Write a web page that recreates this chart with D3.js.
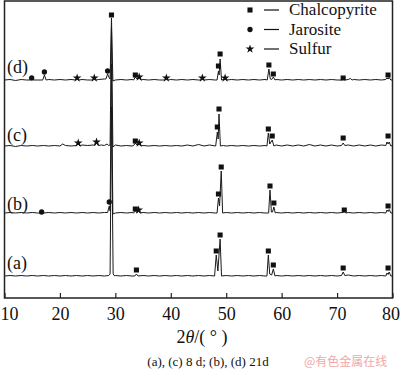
<!DOCTYPE html>
<html>
<head>
<meta charset="utf-8">
<script src="https://cdn.jsdelivr.net/npm/d3@7"></script>
<style>
  body { margin: 0; background: #fff; }
  svg text { font-family: "Liberation Serif", "Times New Roman", Times, serif !important; fill: #111; }
  svg text.cjk { font-family: "Noto Sans CJK SC", sans-serif !important; fill: #f0a8a8; }
</style>
</head>
<body>
<svg id="xrd" width="400" height="376"></svg>
<script>
// 2theta ticks
const xTicks = [10, 20, 30, 40, 50, 60, 70, 80];

const sampleLabels = ["(a)", "(b)", "(c)", "(d)"];
// vertical offset of each pattern (intensity units)
const offsets = [21, 84, 151, 217];

const phases = ["C", "J", "S"];
const phaseNames = ["Chalcopyrite", "Jarosite", "Sulfur"];

// patterns: [2theta, intensity]
const traceA = [[10,1],[11,1.5],[12,1],[13,1.5],[14,1],[15,1.5],[16,1],[17,1.5],[18,1],[19,1.5],[20,1],[21,1.5],[22,1],[23,1.5],[24,1],[25,1.5],[26,1],[27,1.5],[28,1],[28.8,1.5],[29.05,3],[29.3,170],[29.6,3],[29.9,1],[30,1.5],[31,1],[32,1.5],[33,1],[33.5,1],[33.8,3],[34.1,1],[35,1.5],[36,1],[37,1.5],[38,1],[39,1.5],[40,1],[41,1.5],[42,1],[43,1.5],[44,1],[45,1.5],[46,1],[47,1.5],[47.9,1],[48.2,22],[48.5,6],[48.9,38],[49.15,1],[50,1.5],[51,1],[52,1.5],[53,1],[54,1.5],[55,1],[56,1.5],[57,1],[57.35,1],[57.6,22],[57.85,3],[58.2,2],[58.5,8],[58.8,1],[59,1.5],[60,1],[61,1.5],[62,1],[63,1.5],[64,1],[65,1.5],[66,1],[67,1.5],[68,1],[69,1.5],[70,1],[70.8,1.5],[71.1,5],[71.4,1.5],[72,2],[73,1],[74,1.5],[75,1],[76,1.5],[77,1],[78,1.5],[78.8,1],[79.0,4],[79.2,2.5],[79.4,5],[79.7,1],[80,1]];
const traceB = [[10,1],[11,1.5],[12,1],[13,1.5],[14,1],[15,1.5],[16,1],[16.4,1],[16.7,2],[17,1],[18,1.5],[19,1],[20,1.5],[21,1],[22,1.5],[23,1],[24,1.5],[25,1],[26,1.5],[27,1],[28,1.5],[28.6,1.5],[28.9,8],[29.05,3],[29.3,150],[29.55,0],[30,1],[31,1.5],[32,1],[33,1.5],[33.3,1],[33.6,3],[33.9,1.5],[34.2,2.5],[34.5,1],[35,1.5],[36,1],[37,1.5],[38,1],[39,1.5],[40,1],[41,1.5],[42,1],[43,1.5],[44,1],[45,1.5],[46,1],[47,1.5],[48,1],[48.35,1],[48.6,16],[48.8,8],[49.1,43],[49.35,1],[50,1.5],[51,1],[52,1.5],[53,1],[54,1.5],[55,1],[56,1.5],[57,1],[57.65,1],[57.9,24],[58.15,2],[58.35,2],[58.6,7],[58.85,1],[59,1.5],[60,1],[61,1.5],[62,1],[63,1.5],[64,1],[65,1.5],[66,1],[67,1.5],[68,1],[69,1.5],[70,1],[71,1.5],[71.3,2.5],[71.6,1],[72,1.5],[73,1],[74,1.5],[75,1],[76,1.5],[77,1],[78,1.5],[78.8,1],[79.0,4],[79.2,2.5],[79.4,4.5],[79.7,1],[80,1]];
const traceC = [[10,1],[11,1.5],[12,0.5],[13,1.5],[14,1],[15,1.5],[16,1],[17,1.5],[18,1],[19,1.5],[20,1],[20.5,3],[21,1.5],[22,1],[23,1.5],[23.3,3.5],[23.6,1],[24,2],[25,1.5],[26,2],[26.3,1.5],[26.6,4],[26.9,1.5],[27.5,2],[28,1.5],[28.5,3],[28.8,1.5],[29.05,2],[29.3,120],[29.55,0],[30,2],[31,1],[32,1.5],[33,1],[33.3,1.5],[33.6,4],[33.9,2],[34.3,3],[34.6,1],[35,1.5],[36,1],[37,1.5],[38,1],[39,1.5],[40,1],[41,1.5],[42,1],[43,2],[44,1],[45,2.5],[46,1],[47,2],[48.1,1],[48.4,15],[48.55,8],[48.7,33],[48.95,1],[49.5,1.5],[50,1],[51,1.5],[52,1],[53,1.5],[54,1],[55,1.5],[56,1],[57,1.5],[57.35,1],[57.6,14],[57.85,3],[58.3,7],[58.6,1],[59,2],[60,1],[61,2],[62,1],[63,2],[64,1],[65,2.5],[66,1],[67,2],[68,1],[69,2],[70,1],[70.8,1.5],[71.1,4],[71.4,1.5],[72,2],[73,1],[74,2],[75,1],[76,2],[77,1],[78,2],[78.8,1.5],[79.0,5],[79.2,3],[79.4,5],[79.7,1],[80,1.5]];
const traceD = [[10,1],[11,1.5],[12,0.5],[13,1.5],[14,1],[14.6,1],[14.9,3],[15.2,1],[16,1],[16.9,1],[17.2,6],[17.5,1],[18,1.5],[19,1],[20,1.5],[21,1],[22,1.5],[22.8,1],[23.1,3],[23.4,1],[24,1.5],[25,1],[25.9,1],[26.2,3],[26.5,1],[27,1.5],[28,2],[28.3,2],[28.6,7],[28.9,3],[29.05,2],[29.3,63],[29.55,0],[30,1],[31,1.5],[32,1],[33,1.5],[33.3,1],[33.6,4],[33.9,2],[34.3,3],[34.6,1],[35,1.5],[36,1],[37,1.5],[38,1],[38.9,1],[39.2,2.5],[39.5,1],[40,1.5],[41,1],[42,1.5],[43,1],[44,1.5],[45,1],[45.5,1],[45.7,2.5],[46,1],[47,1.5],[48,1],[48.35,1],[48.6,10],[48.72,6],[48.9,22],[49.15,1],[49.8,2],[50,1],[51,1.5],[52,1],[53,1.5],[54,1],[55,1.5],[56,1],[57,1.5],[57.4,1],[57.7,12],[57.95,2],[58.2,1.5],[58.5,4],[58.8,1],[59,1.5],[60,1],[61,1.5],[62,1],[63,1.5],[64,1],[65,1.5],[66,1],[67,1.5],[68,1],[69,1.5],[70,1],[70.8,1],[71.1,2.5],[71.4,1],[72,1.5],[72.4,2.5],[72.7,1],[73,1.5],[74,1],[75,1.5],[76,1],[77,1.5],[78,1],[78.8,1.5],[79.0,3],[79.2,2],[79.4,3.5],[79.7,1],[80,1]];

// peak markers: [2theta, intensity, phase]
const marksA = [[33.8,7,"C"],[48.2,26,"C"],[48.9,42,"C"],[57.6,26,"C"],[58.5,12,"C"],[71.1,9,"C"],[79.2,9,"C"]];
const marksB = [[16.7,2,"J"],[28.9,12,"J"],[33.6,5,"C"],[34.2,4,"S"],[48.6,20,"C"],[49.1,47,"C"],[57.9,28,"C"],[58.6,11,"C"],[71.3,4,"C"],[79.2,8,"C"]];
const marksC = [[23.3,4,"S"],[26.6,5,"S"],[33.6,6,"C"],[34.3,4,"S"],[48.4,20,"C"],[48.7,38,"C"],[57.6,18,"C"],[58.3,11,"C"],[71.1,9,"C"],[79.2,11,"C"]];
const marksD = [[14.9,3,"J"],[17.2,9,"J"],[23.1,3,"S"],[26.2,3,"S"],[28.6,10,"J"],[29.3,66,"C"],[33.6,6,"C"],[34.3,4,"S"],[39.2,3,"S"],[45.7,3,"S"],[48.6,15,"C"],[48.9,27,"C"],[49.8,3,"S"],[57.7,16,"C"],[58.5,7,"C"],[71.1,3,"C"],[79.2,6,"C"]];

const traces = [traceA, traceB, traceC, traceD];
const marks = [marksA, marksB, marksC, marksD];

const svg = d3.select("#xrd");
const plotLeft = 4.5, plotRight = 392.5, plotTop = 1, plotBottom = 298;

const x = d3.scaleLinear().domain([10, 80]).range([plotLeft, plotRight]);
const y = d3.scaleLinear().domain([0, 297]).range([plotBottom, plotTop]);

const symbolFor = d3.scaleOrdinal().domain(phases)
    .range([d3.symbolSquare, d3.symbolCircle, d3.symbolStar]);
const sizeFor = d3.scaleOrdinal().domain(phases).range([26, 22, 24]);

svg.append("clipPath").attr("id", "plotClip")
    .append("rect").attr("x", plotLeft).attr("y", plotTop)
    .attr("width", plotRight - plotLeft).attr("height", plotBottom - plotTop);

const plot = svg.append("g").attr("clip-path", "url(#plotClip)");

const line = d3.line();

traces.forEach((t, i) => {
    plot.append("path")
        .attr("fill", "none")
        .attr("stroke", "#1a1a1a")
        .attr("stroke-width", 1)
        .attr("stroke-linejoin", "round")
        .attr("d", line(t.map(d => [x(d[0]), y(d[1] + offsets[i])])));
});

marks.forEach((m, i) => {
    plot.selectAll(null)
        .data(m)
        .enter().append("path")
        .attr("transform", d => `translate(${x(d[0])},${y(d[1] + offsets[i])})`)
        .attr("d", d => d3.symbol(symbolFor(d[2]), sizeFor(d[2]))())
        .attr("fill", "#111");
});

// sample labels
svg.selectAll(".slabel")
    .data(sampleLabels)
    .enter().append("text")
    .attr("x", 7)
    .attr("y", (d, i) => y(offsets[i]) + [-8, -4, -6, -8][i])
    .attr("font-size", 18)
    .text(d => d);

// frame
svg.append("rect")
    .attr("x", plotLeft).attr("y", plotTop)
    .attr("width", plotRight - plotLeft).attr("height", plotBottom - plotTop)
    .attr("fill", "none").attr("stroke", "#222").attr("stroke-width", 1.5);

// x axis, ticks pointing inwards
const xAxis = d3.axisBottom(x).tickValues(xTicks).tickSizeInner(-5).tickSizeOuter(0).tickPadding(9);
const gx = svg.append("g").attr("transform", `translate(0,${plotBottom})`).call(xAxis);
gx.attr("font-family", null);
gx.select(".domain").remove();
gx.selectAll(".tick line").attr("stroke", "#222").attr("stroke-width", 1.2);
gx.selectAll(".tick text")
    .attr("font-size", 18)
    .attr("dx", d => d === 10 ? 4.5 : (d === 80 ? -2 : 0));

// axis title
const title = svg.append("text")
    .attr("x", 202).attr("y", 343)
    .attr("text-anchor", "middle")
    .attr("font-size", 18);
title.append("tspan").text("2");
title.append("tspan").attr("font-style", "italic").text("θ");
title.append("tspan").text("/( ° )");

// caption
svg.append("text")
    .attr("x", 208).attr("y", 366)
    .attr("text-anchor", "middle")
    .attr("font-size", 13)
    .text("(a), (c) 8 d; (b), (d) 21d");

svg.append("text")
    .attr("class", "cjk")
    .attr("x", 304).attr("y", 366)
    .attr("font-size", 12)
    .text("@有色金属在线");

// legend
const legend = svg.append("g");
phases.forEach((p, i) => {
    const ly = 10 + i * 19.5;
    legend.append("path")
        .attr("transform", `translate(250,${ly})`)
        .attr("d", d3.symbol(symbolFor(p), sizeFor(p))())
        .attr("fill", "#111");
    legend.append("line")
        .attr("x1", 264).attr("x2", 279)
        .attr("y1", ly).attr("y2", ly)
        .attr("stroke", "#111").attr("stroke-width", 1.2);
    legend.append("text")
        .attr("x", 289).attr("y", ly + 5)
        .attr("font-size", 17)
        .text(phaseNames[i]);
});
</script>
</body>
</html>
